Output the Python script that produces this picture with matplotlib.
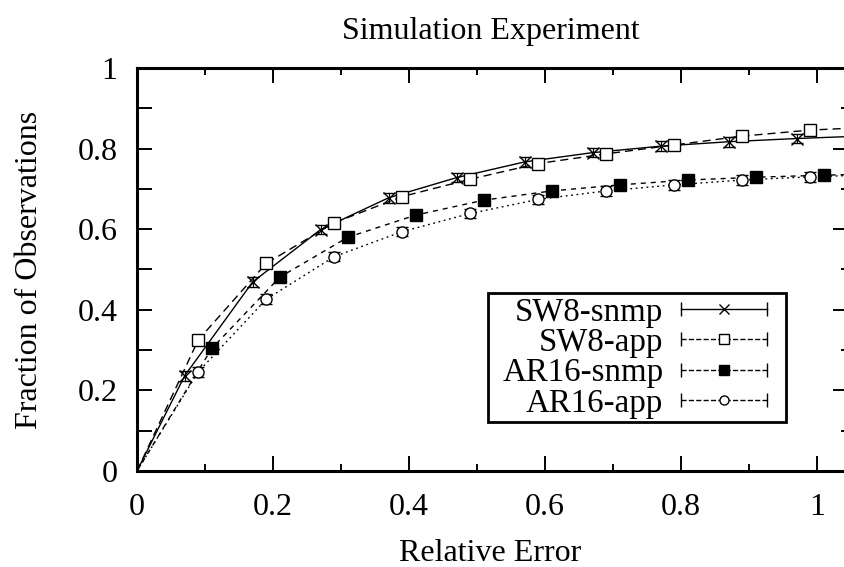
import numpy as np
import matplotlib.pyplot as plt
from matplotlib.lines import Line2D
from matplotlib.patches import Rectangle
from matplotlib.legend_handler import HandlerBase

plt.rcParams['font.family'] = ['Liberation Serif', 'DejaVu Serif']
plt.rcParams['font.size'] = 23

# values (marker positions)
sw8_snmp_x = [0.07, 0.17, 0.27, 0.37, 0.47, 0.57, 0.67, 0.77, 0.87, 0.97]
sw8_snmp_y = [0.236, 0.469, 0.599, 0.678, 0.728, 0.767, 0.790, 0.806, 0.817, 0.825]
sw8_app_x = [0.09, 0.19, 0.29, 0.39, 0.49, 0.59, 0.69, 0.79, 0.89, 0.99]
sw8_app_y = [0.325, 0.515, 0.616, 0.681, 0.724, 0.763, 0.787, 0.809, 0.831, 0.846]
ar16_snmp_x = [0.11, 0.21, 0.31, 0.41, 0.51, 0.61, 0.71, 0.81, 0.91, 1.01]
ar16_snmp_y = [0.304, 0.481, 0.580, 0.635, 0.672, 0.695, 0.710, 0.722, 0.729, 0.734]
ar16_app_x = [0.09, 0.19, 0.29, 0.39, 0.49, 0.59, 0.69, 0.79, 0.89, 0.99]
ar16_app_y = [0.246, 0.426, 0.532, 0.594, 0.639, 0.674, 0.695, 0.710, 0.722, 0.730]
err = 0.012

# line start / end read at origin and right border
line_start = (0.0, 0.0)
line_end_x = 1.08
sw8_snmp_end = 0.832
sw8_app_end = 0.853
ar16_snmp_end = 0.737
ar16_app_end = 0.735

series = [
    ('SW8-snmp', sw8_snmp_x, sw8_snmp_y, sw8_snmp_end, '-', 'x', 'none', 8),
    ('SW8-app', sw8_app_x, sw8_app_y, sw8_app_end, (0, (5.8, 3.6)), 's', 'white', 8),
    ('AR16-snmp', ar16_snmp_x, ar16_snmp_y, ar16_snmp_end, (0, (3.6, 3.6)), 's', 'black', 8.5),
    ('AR16-app', ar16_app_x, ar16_app_y, ar16_app_end, (0, (1.3, 2.6)), 'o', 'white', 8),
]


class GnuplotHandler(HandlerBase):
    # sample drawn like gnuplot: |----marker----|
    def create_artists(self, legend, orig, xdescent, ydescent, width, height,
                       fontsize, trans):
        y = height / 2 - ydescent
        x0, x1 = -xdescent, width - xdescent
        ln = Line2D([x0, x1], [y, y], color='k', lw=1.0, ls=orig.get_linestyle())
        caps = Line2D([x0, x1], [y, y], ls='none', marker='|', ms=10,
                      mew=1.0, color='k')
        mk = Line2D([(x0 + x1) / 2], [y], ls='none', marker=orig.get_marker(),
                    ms=orig.get_markersize(), mfc=orig.get_markerfacecolor(),
                    mec='k', mew=1.0)
        for a in (ln, caps, mk):
            a.set_transform(trans)
        return [ln, caps, mk]


fig = plt.figure(figsize=(8.44, 5.67), dpi=100)
ax = fig.add_axes([137 / 844, 96 / 567, 711 / 844, 403 / 567])

handles = []
for label, xs, ys, yend, ls, mk, fc, ms in series:
    lx = [line_start[0]] + xs + [line_end_x]
    ly = [line_start[1]] + ys + [yend]
    ax.plot(lx, ly, color='k', lw=1.0, ls=ls)
    ax.errorbar(xs, ys, yerr=err, fmt=mk, color='k', mfc=fc, mec='k',
                ms=ms, mew=1.0, elinewidth=0.8, capsize=4.3, capthick=0.8)
    handles.append(Line2D([], [], color='k', ls=ls, marker=mk, mfc=fc,
                          ms=6.5, label=label))

ax.set_xlim(0, 711 / 680)
ax.set_ylim(0, 1)
ticks = [0, 0.2, 0.4, 0.6, 0.8, 1.0]
tick_labels = ['0', '0.2', '0.4', '0.6', '0.8', '1']
ax.set_xticks(ticks)
ax.set_xticklabels(tick_labels)
ax.set_yticks(ticks)
ax.set_yticklabels(tick_labels)
ax.set_xticks(np.arange(0.1, 1.04, 0.2), minor=True)
ax.set_yticks(np.arange(0.1, 1.0, 0.2), minor=True)
ax.tick_params(which='both', direction='in', top=True, right=False, width=1.4)
ax.tick_params(which='major', length=10.8)
ax.tick_params(axis='x', which='minor', length=5)
ax.tick_params(axis='y', which='minor', length=10.8)
ax.tick_params(axis='y', pad=14)
ax.tick_params(axis='x', pad=15.5)
for sp in ax.spines.values():
    sp.set_linewidth(2.2)

sec = ax.secondary_yaxis('right')
sec.set_yticks(ticks)
sec.set_yticks(np.arange(0.1, 1.0, 0.2), minor=True)
sec.tick_params(which='both', direction='in', width=1.4, labelright=False)
sec.tick_params(which='major', length=10.8)
sec.tick_params(which='minor', length=5)
sec.spines['right'].set_visible(False)

ax.set_xlabel('Relative Error')
ax.xaxis.set_label_coords(0.5 * 707 / 711, -0.168)
ax.set_ylabel('Fraction of Observations')
ax.yaxis.set_label_coords(-0.131 * 707 / 711, 0.5)
ax.set_title('Simulation Experiment', fontsize=23, pad=21,
             x=0.5 * 707 / 711)

leg = ax.legend(handles=handles, loc='upper right',
                bbox_to_anchor=((767 - 137) / 711, (471 - 297) / 403),
                markerfirst=False, handler_map={Line2D: GnuplotHandler()},
                handlelength=2.6, handletextpad=0.55, labelspacing=0.0,
                borderpad=0, borderaxespad=0, frameon=False, fontsize=23.7)
ax.add_patch(Rectangle(((488 - 137) / 711, (471 - 422) / 403),
                       (786 - 488) / 711, (422 - 293) / 403,
                       transform=ax.transAxes, fill=True, fc='white',
                       ec='k', lw=2.0, zorder=4))
leg.set_zorder(5)

fig.savefig('out.png', dpi=100)
